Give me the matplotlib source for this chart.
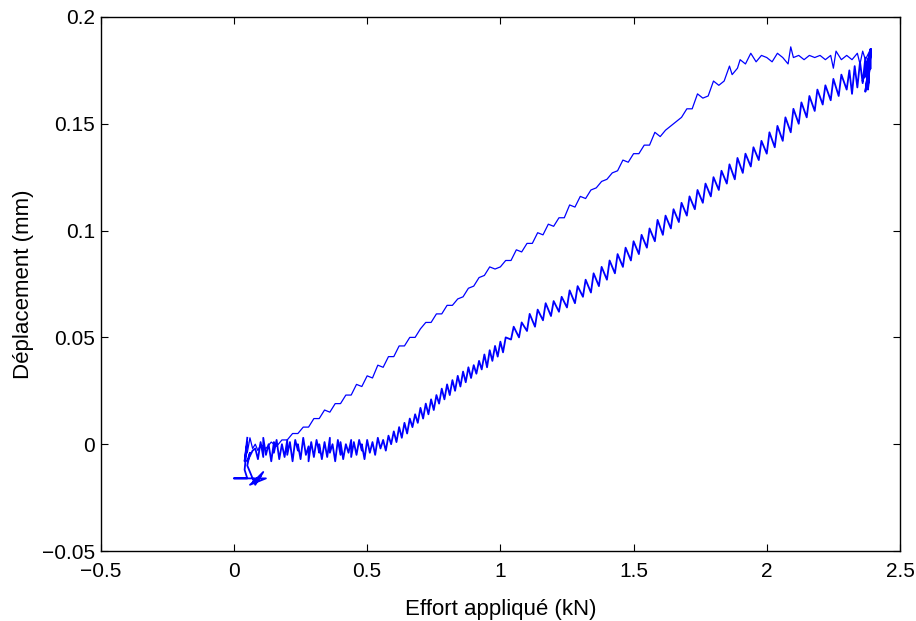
import matplotlib
matplotlib.use("Agg")
import matplotlib.pyplot as plt

# --- donnees (effort en kN, deplacement en mm) ---
# depart / petit crochet pres de l'origine
effort_depart = [0.05, 0.04, 0.05, 0.04, 0.05, 0.00, 0.12, 0.06, 0.10, 0.07, 0.11, 0.08, 0.05, 0.06, 0.05, 0.07]
depl_depart = [0.003, -0.008, 0.001, -0.012, -0.016, -0.016, -0.016, -0.019, -0.015, -0.018, -0.013, -0.019, -0.010, -0.004, -0.008, -0.003]

# branche de charge (basse, bruitee et epaisse)
effort_charge = [
    0.08, 0.09, 0.10, 0.11, 0.11, 0.12, 0.13, 0.14, 0.15, 0.15, 0.16, 0.17, 0.18, 0.19, 0.20,
    0.20, 0.21, 0.22, 0.23, 0.24, 0.24, 0.25, 0.26, 0.27, 0.28, 0.28, 0.29, 0.30, 0.31, 0.32,
    0.32, 0.33, 0.34, 0.35, 0.36, 0.36, 0.37, 0.38, 0.39, 0.40, 0.40, 0.41, 0.42, 0.43, 0.44,
    0.44, 0.45, 0.46, 0.47, 0.48, 0.48, 0.49, 0.50, 0.51, 0.52, 0.53, 0.54, 0.55, 0.56, 0.57,
    0.58, 0.59, 0.60, 0.61, 0.62, 0.63, 0.64, 0.65, 0.66, 0.67, 0.68, 0.69, 0.70, 0.71, 0.72,
    0.73, 0.74, 0.75, 0.76, 0.77, 0.78, 0.79, 0.80, 0.81, 0.82, 0.83, 0.84, 0.85, 0.86, 0.87,
    0.88, 0.89, 0.90, 0.91, 0.92, 0.93, 0.94, 0.95, 0.96, 0.97, 0.98, 0.99, 1.00, 1.01, 1.02,
    1.04, 1.05, 1.07, 1.08, 1.10, 1.11, 1.13, 1.14, 1.16, 1.17, 1.19, 1.20, 1.22, 1.23, 1.25,
    1.26, 1.28, 1.29, 1.31, 1.32, 1.34, 1.35, 1.37, 1.38, 1.40, 1.41, 1.43, 1.44, 1.46, 1.47,
    1.49, 1.50, 1.52, 1.53, 1.55, 1.56, 1.58, 1.59, 1.61, 1.62, 1.64, 1.65, 1.67, 1.68, 1.70,
    1.71, 1.73, 1.74, 1.76, 1.77, 1.79, 1.80, 1.82, 1.83, 1.85, 1.86, 1.88, 1.89, 1.91, 1.92,
    1.94, 1.95, 1.97, 1.98, 2.00, 2.01, 2.03, 2.04, 2.06, 2.07, 2.09, 2.10, 2.12, 2.13, 2.15,
    2.16, 2.18, 2.19, 2.21, 2.22, 2.24, 2.25, 2.27, 2.28, 2.30, 2.31, 2.32, 2.33, 2.34, 2.35,
    2.36, 2.37, 2.38, 2.39, 2.37, 2.39, 2.36, 2.39, 2.38, 2.39, 2.37, 2.39, 2.38, 2.39, 2.39,
]
depl_charge = [
    -0.002, -0.007, 0.001, -0.006, 0.003, -0.005, 0.000, -0.008, 0.001, -0.004, 0.002, -0.007, 0.000, -0.006, 0.002,
    -0.005, 0.001, -0.008, 0.002, -0.003, 0.000, -0.007, 0.003, -0.005, -0.001, -0.008, 0.001, -0.006, 0.002, -0.004,
    0.000, -0.007, 0.001, -0.006, 0.003, -0.004, 0.000, -0.008, 0.002, -0.005, 0.001, -0.007, 0.000, -0.004, 0.002,
    -0.006, 0.001, -0.005, 0.002, -0.003, 0.000, -0.007, 0.002, -0.004, 0.001, -0.005, 0.003, -0.002, 0.002, -0.003,
    0.004, 0.000, 0.006, 0.001, 0.008, 0.003, 0.010, 0.005, 0.012, 0.008, 0.014, 0.010, 0.017, 0.012, 0.019,
    0.014, 0.021, 0.016, 0.023, 0.019, 0.026, 0.021, 0.028, 0.023, 0.030, 0.025, 0.032, 0.027, 0.034, 0.029,
    0.036, 0.031, 0.037, 0.033, 0.039, 0.035, 0.042, 0.036, 0.044, 0.039, 0.046, 0.041, 0.048, 0.043, 0.050,
    0.049, 0.055, 0.050, 0.057, 0.053, 0.061, 0.055, 0.063, 0.058, 0.066, 0.060, 0.067, 0.062, 0.069, 0.064,
    0.072, 0.066, 0.074, 0.069, 0.077, 0.071, 0.080, 0.074, 0.083, 0.077, 0.086, 0.080, 0.089, 0.083, 0.092,
    0.086, 0.095, 0.089, 0.098, 0.092, 0.101, 0.095, 0.105, 0.098, 0.107, 0.101, 0.110, 0.104, 0.113, 0.107,
    0.116, 0.110, 0.119, 0.113, 0.122, 0.116, 0.125, 0.119, 0.128, 0.122, 0.131, 0.124, 0.134, 0.127, 0.136,
    0.130, 0.139, 0.133, 0.142, 0.136, 0.146, 0.139, 0.149, 0.142, 0.153, 0.146, 0.157, 0.150, 0.160, 0.153,
    0.163, 0.156, 0.166, 0.159, 0.168, 0.161, 0.171, 0.163, 0.173, 0.166, 0.175, 0.164, 0.177, 0.167, 0.179,
    0.169, 0.181, 0.168, 0.183, 0.165, 0.184, 0.170, 0.185, 0.166, 0.184, 0.172, 0.185, 0.168, 0.185, 0.176,
]

# branche de decharge (haute, plus fine)
effort_decharge = [
    2.39, 2.37, 2.36, 2.35, 2.34, 2.32, 2.30, 2.28, 2.26, 2.25, 2.24, 2.22, 2.20, 2.18, 2.16,
    2.14, 2.12, 2.10, 2.09, 2.08, 2.06, 2.04, 2.02, 2.00, 1.98, 1.96, 1.94, 1.92, 1.90, 1.89,
    1.87, 1.86, 1.84, 1.82, 1.80, 1.78, 1.76, 1.74, 1.72, 1.70, 1.68, 1.66, 1.64, 1.62, 1.60,
    1.58, 1.56, 1.54, 1.52, 1.50, 1.48, 1.46, 1.44, 1.42, 1.40, 1.38, 1.36, 1.34, 1.32, 1.30,
    1.28, 1.26, 1.24, 1.22, 1.20, 1.18, 1.16, 1.14, 1.12, 1.10, 1.08, 1.06, 1.04, 1.02, 1.00,
    0.98, 0.96, 0.94, 0.92, 0.90, 0.88, 0.86, 0.84, 0.82, 0.80, 0.78, 0.76, 0.74, 0.72, 0.70,
    0.68, 0.66, 0.64, 0.62, 0.60, 0.58, 0.56, 0.54, 0.52, 0.50, 0.48, 0.46, 0.44, 0.42, 0.40,
    0.38, 0.36, 0.34, 0.32, 0.30, 0.28, 0.26, 0.24, 0.22, 0.20, 0.18, 0.16, 0.14, 0.12, 0.10,
    0.09, 0.08, 0.07, 0.06, 0.05,
]
depl_decharge = [
    0.185, 0.180, 0.184, 0.178, 0.183, 0.180, 0.182, 0.180, 0.184, 0.176, 0.182, 0.180, 0.182, 0.181, 0.182,
    0.180, 0.182, 0.181, 0.186, 0.178, 0.181, 0.183, 0.179, 0.181, 0.182, 0.179, 0.183, 0.178, 0.180, 0.176,
    0.173, 0.177, 0.170, 0.168, 0.170, 0.163, 0.162, 0.164, 0.157, 0.157, 0.153, 0.151, 0.149, 0.147, 0.144,
    0.146, 0.140, 0.140, 0.136, 0.136, 0.132, 0.133, 0.128, 0.127, 0.124, 0.123, 0.120, 0.119, 0.115, 0.116,
    0.111, 0.112, 0.106, 0.106, 0.102, 0.103, 0.098, 0.099, 0.094, 0.094, 0.090, 0.091, 0.086, 0.086, 0.083,
    0.082, 0.083, 0.079, 0.078, 0.074, 0.073, 0.069, 0.068, 0.065, 0.065, 0.061, 0.061, 0.057, 0.057, 0.054,
    0.050, 0.050, 0.046, 0.046, 0.041, 0.041, 0.036, 0.037, 0.031, 0.032, 0.027, 0.028, 0.023, 0.023, 0.019,
    0.019, 0.015, 0.016, 0.012, 0.012, 0.008, 0.008, 0.005, 0.005, 0.002, 0.002, -0.001, 0.001, -0.002, 0.000,
    -0.003, 0.000, -0.002, 0.003, -0.004,
]

xticks = [-0.5, 0, 0.5, 1, 1.5, 2, 2.5]
yticks = [-0.05, 0, 0.05, 0.1, 0.15, 0.2]

plt.rcParams['font.family'] = ['Liberation Sans', 'DejaVu Sans']

fig = plt.figure(figsize=(9.16, 6.21), dpi=100)
ax = fig.add_axes([0.110, 0.1127, 0.8725, 0.860])

# branche basse plus epaisse (beaucoup d'echantillons dans l'original)
ax.plot(effort_depart + effort_charge, depl_depart + depl_charge, color='blue', linewidth=1.3)
ax.plot(effort_decharge, depl_decharge, color='blue', linewidth=0.9)

ax.set_xlim(-0.5, 2.5)
ax.set_ylim(-0.05, 0.2)
ax.set_xticks(xticks)
ax.set_xticklabels(['−0.5', '0', '0.5', '1', '1.5', '2', '2.5'])
ax.set_yticks(yticks)
ax.set_yticklabels(['−0.05', '0', '0.05', '0.1', '0.15', '0.2'])
ax.tick_params(direction='in', top=True, right=True, labelsize=15, length=5)
ax.tick_params(axis='x', pad=8)
ax.tick_params(axis='y', pad=4)
for s in ax.spines.values():
    s.set_linewidth(1.0)

ax.set_xlabel('Effort appliqué (kN)', fontsize=16, labelpad=13)
ax.set_ylabel('Déplacement (mm)', fontsize=16, labelpad=6)

fig.savefig('out.png', dpi=100)
